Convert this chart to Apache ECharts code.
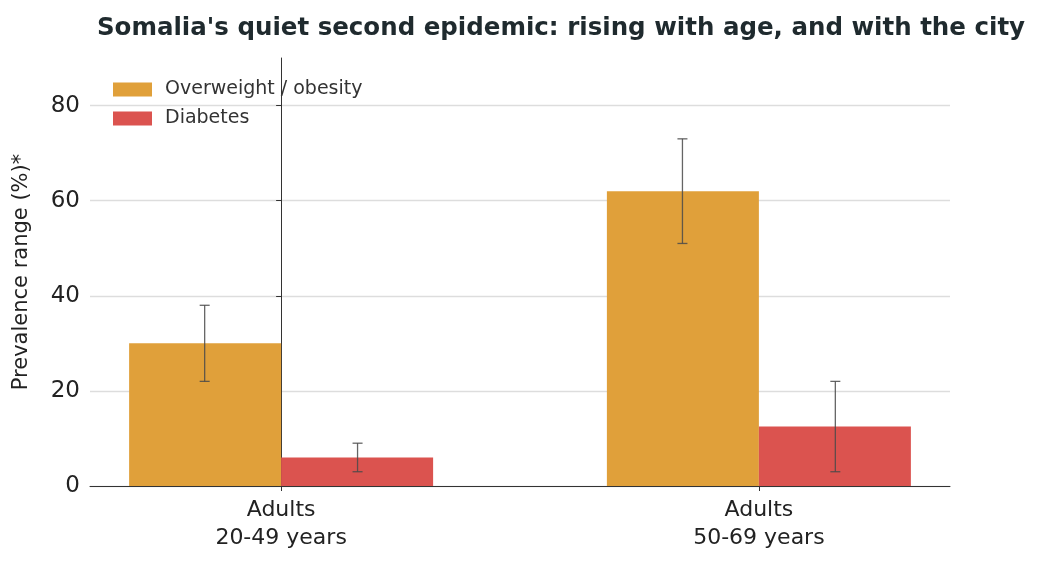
<!DOCTYPE html>
<html><head><meta charset="utf-8">
<script src="https://cdn.jsdelivr.net/npm/echarts@6/dist/echarts.min.js"></script>
<style>html,body{margin:0;background:#fff}#c{width:1038px;height:565px}</style>
</head><body><div id="c"></div>
<script>
const categories = ['Adults\n20-49 years', 'Adults\n50-69 years'];
const overweight = [30, 62];
const overweightLow = [22, 51];
const overweightHigh = [38, 73];
const diabetes = [6, 12.5];
const diabetesLow = [3, 3];
const diabetesHigh = [9, 22];
const yTicks = [0, 20, 40, 60, 80];

const F = 'DejaVu Sans';
const BW = 0.16; // half of paired width, in x units
function errSeries(lo, hi, side) {
  return {
    type: 'custom', z: 10, silent: true,
    data: lo.map((l, i) => [i, l, hi[i]]),
    encode: { x: 0, y: [1, 2] },
    renderItem: (params, api) => {
      const a = api.coord([api.value(0) + side * BW, api.value(1)]);
      const b = api.coord([api.value(0) + side * BW, api.value(2)]);
      const x = a[0], cw = 5;
      const st = { stroke: '#4a4a4a', lineWidth: 1.3, opacity: 0.85 };
      return { type: 'group', children: [
        { type: 'line', shape: { x1: x, y1: a[1], x2: x, y2: b[1] }, style: st },
        { type: 'line', shape: { x1: x - cw, y1: a[1], x2: x + cw, y2: a[1] }, style: st },
        { type: 'line', shape: { x1: x - cw, y1: b[1], x2: x + cw, y2: b[1] }, style: st }
      ]};
    }
  };
}
const chart = echarts.init(document.getElementById('c'));
chart.setOption({
  animation: false,
  textStyle: { fontFamily: F },
  title: { text: "Somalia's quiet second epidemic: rising with age, and with the city",
    left: 556, textAlign: 'center', top: 11,
    textStyle: { fontFamily: F, fontSize: 24.5, fontWeight: 'bold', color: '#1f2a2e' } },
  legend: { orient: 'vertical', left: 108, top: 75, itemWidth: 39, itemHeight: 14, itemGap: 10, icon: 'rect',
    textStyle: { fontFamily: F, fontSize: 19, color: '#333', padding: [0, 0, 0, 8] },
    data: ['Overweight / obesity', 'Diabetes'] },
  grid: { left: 90, right: 88, top: 58, bottom: 79 },
  xAxis: { type: 'value', min: -0.4, max: 1.4,
    splitLine: { show: false },
    axisLine: { lineStyle: { color: '#333' } },
    axisTick: { show: true, customValues: [0, 1], length: 5, lineStyle: { color: '#333' } },
    axisLabel: { customValues: [0, 1], formatter: v => categories[Math.round(v)],
      fontSize: 22, color: '#222', lineHeight: 28, margin: 10 } },
  yAxis: { type: 'value', min: 0, max: 90,
    name: 'Prevalence range (%)*', nameLocation: 'middle', nameGap: 58,
    nameTextStyle: { fontSize: 21, color: '#222' },
    axisLine: { show: true, lineStyle: { color: '#333' } },
    axisTick: { show: true, customValues: yTicks, length: 5, lineStyle: { color: '#333' } },
    axisLabel: { customValues: yTicks, fontSize: 23, color: '#222', margin: 10 },
    splitLine: { show: true, lineStyle: { color: '#dddddd', width: 1.3 } } },
  series: [
    { name: 'Overweight / obesity', type: 'bar', data: overweight.map((v, i) => [i, v]),
      itemStyle: { color: '#E0A03A' }, barWidth: 152, barGap: '0%' },
    { name: 'Diabetes', type: 'bar', data: diabetes.map((v, i) => [i, v]),
      itemStyle: { color: '#DB534F' }, barWidth: 152 },
    errSeries(overweightLow, overweightHigh, -1),
    errSeries(diabetesLow, diabetesHigh, 1)
  ]
});
</script></body></html>
